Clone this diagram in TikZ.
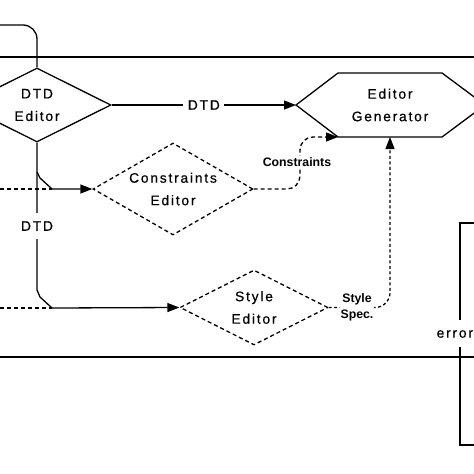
\documentclass[tikz,border=0pt]{standalone}
\usepackage{fontspec}
\setmainfont{Liberation Sans}
\newfontfamily\spacedfont[LetterSpace=13,FakeBold=0.6]{Liberation Sans}
\usetikzlibrary{shapes.geometric,arrows.meta}
\begin{document}
\begin{tikzpicture}[x=1pt,y=-1pt,
  line width=1.3pt,
  lbl/.style={font=\spacedfont\fontsize{13.8}{22.5}\selectfont, align=center, inner sep=1pt},
  small/.style={font=\bfseries\fontsize{12.3}{16}\selectfont, align=center, inner sep=1pt, fill=white},
  dia/.style={diamond, aspect=2, draw, lbl, inner sep=0pt},
  dsh/.style={dash pattern=on 4pt off 3pt},
  dot/.style={dash pattern=on 3pt off 2.5pt},
  arr/.style={-{Triangle[length=12pt,width=9pt]}},
  ]
\useasboundingbox (0,0) rectangle (474,474);
\clip (0,0) rectangle (474,474);
% outer frame
\draw (0,57) -- (474,57);
\draw (0,357) -- (474,357);
% nodes
\node[dia, minimum width=148pt, minimum height=74pt] (dtd) at (37,105) {DTD\\Editor};
\node[dia, dsh, minimum width=160pt, minimum height=92pt] (cons) at (173,189) {Constraints\\Editor};
\node[dia, dsh, minimum width=148pt, minimum height=75pt] (sty) at (254,307.5) {Style\\Editor};
\node[lbl] (gen) at (390,105) {Editor\\Generator};
\draw (296,105) -- (338,73) -- (442,73) -- (485,105) -- (442,137) -- (338,137) -- cycle;
\coordinate (genL) at (296,105);
\coordinate (genBL) at (338,137);
\coordinate (genB) at (390,137);
% input from top
\coordinate (topin) at (0,25);
\draw[rounded corners=14pt] (topin) -| (dtd.north);
% DTD to generator
\draw[arr] (dtd.east) -- node[lbl, fill=white, inner xsep=4.5pt]{DTD} (genL);
% DTD down to style editor
\coordinate (j1) at (37,172);
\coordinate (b1) at (52,189);
\coordinate (b2) at (52,308);
\coordinate (in1) at (0,189);
\coordinate (in2) at (0,308);
\draw[arr] (dtd.south) -- (37,290) -- (40,297) -- (b2) -- (sty.west);
\node[lbl, fill=white, inner ysep=8pt] (dtdlab) at (37,226) {DTD};
\draw[arr] (j1) -- (40,178) -- (b1) -- (cons.west);
\draw[dsh] (in1) -- (b1);
\draw[dsh] (in2) -- (b2);
% constraints to generator
\draw[dsh, arr, rounded corners=13pt] (cons.east) -| (300,163) |- (genBL);
\node[small] (conslab) at (297,162) {Constraints};
% style spec to generator
\draw[dot, arr, rounded corners=15pt] (sty.east) -| (genB);
\node[small] (speclab) at (357,307) {Style\\Spec.};
% right box
\coordinate (r1) at (474,223);
\coordinate (r2) at (460,223);
\coordinate (r3) at (460,320);
\coordinate (r4) at (460,347);
\coordinate (r5) at (460,445);
\coordinate (r6) at (474,445);
\draw (r1) -- (r2) -- (r3);
\node[lbl, anchor=west] (err) at (435,334) {errors};
\draw (r4) -- (r5) -- (r6);
\end{tikzpicture}
\end{document}
